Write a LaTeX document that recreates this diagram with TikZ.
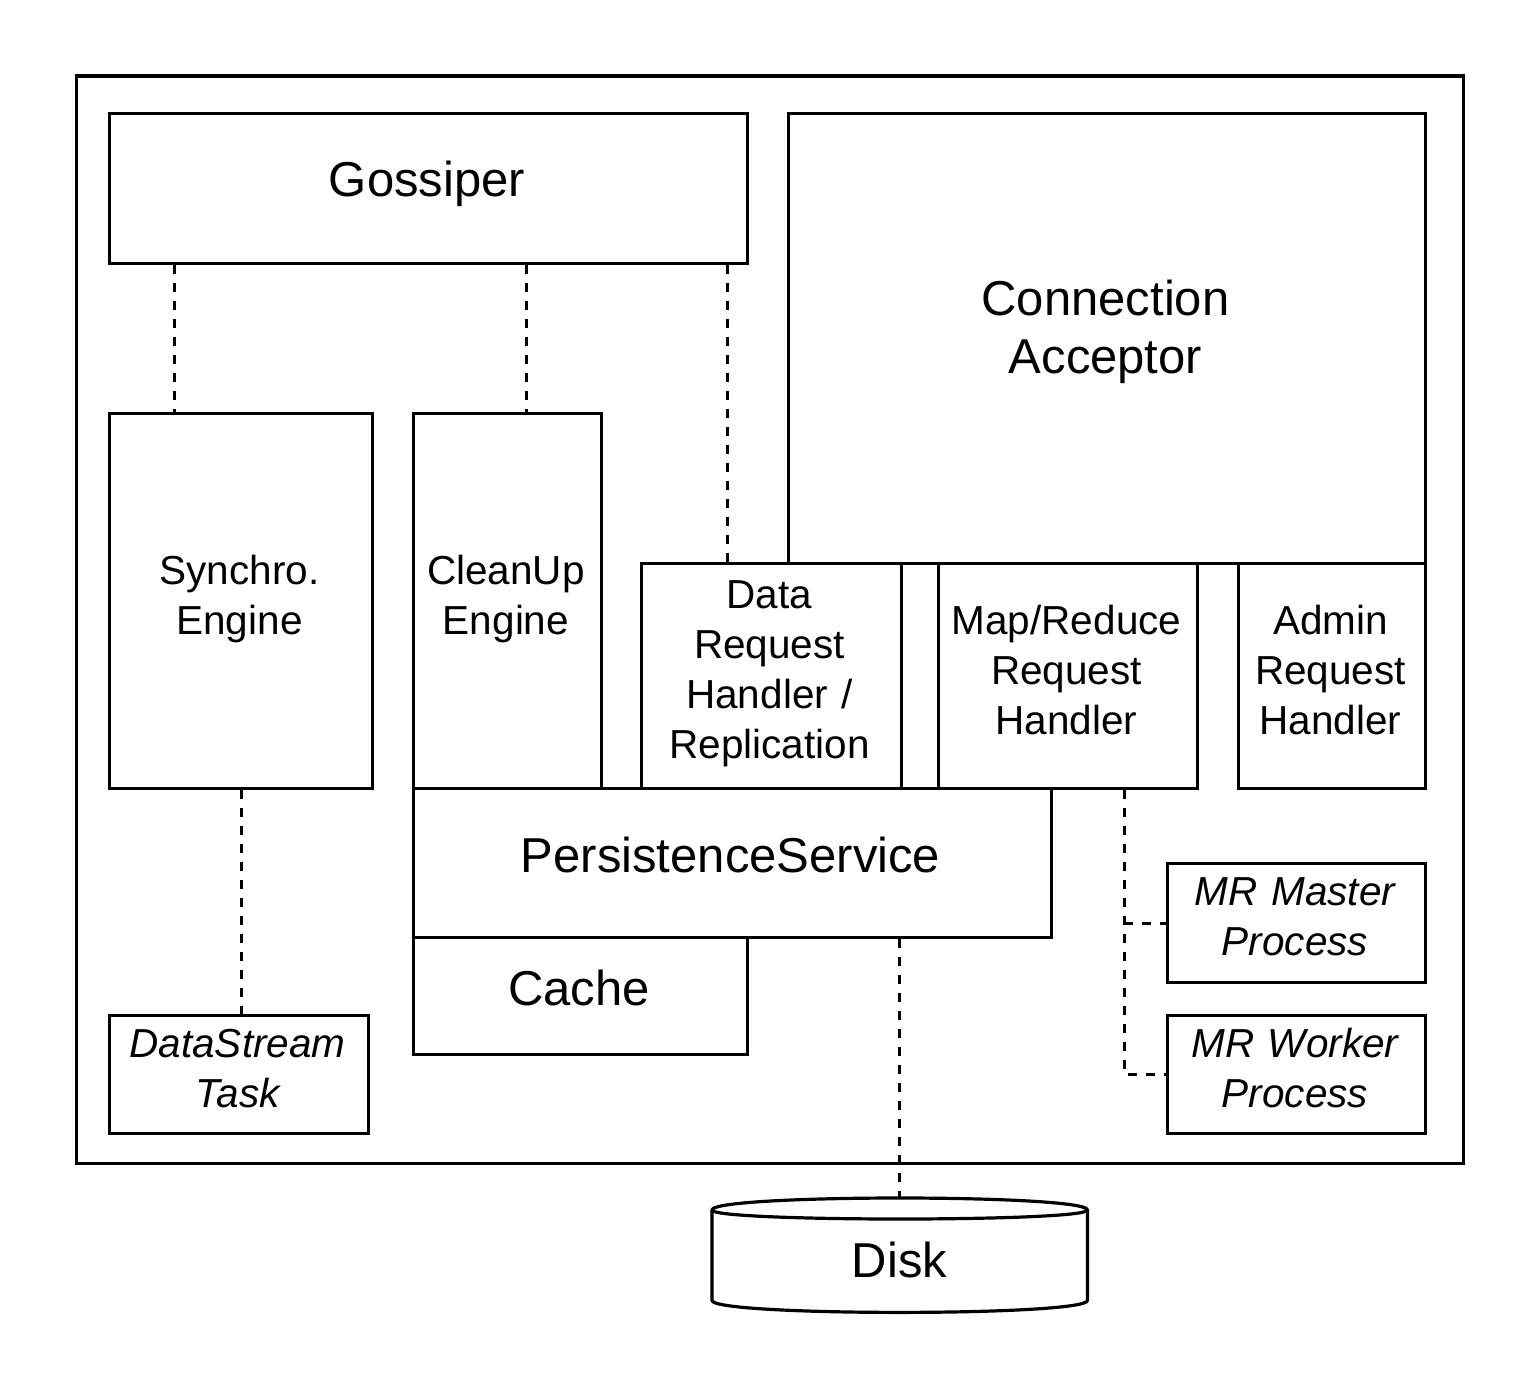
\documentclass[tikz,border=0pt]{standalone}
\usepackage{fontspec}
\setmainfont{Liberation Sans}
\usetikzlibrary{calc}
\begin{document}
\begin{tikzpicture}[x=1pt,y=-1pt,
  box/.style={draw, line width=3.2pt, inner sep=0pt, anchor=north west},
  dl/.style={line width=3.2pt, dash pattern=on 9pt off 9pt},
  big/.style={font=\fontsize{49}{58}\selectfont, inner sep=0pt, anchor=base, align=center},
  sml/.style={font=\fontsize{40.5}{50}\selectfont, inner sep=0pt, anchor=base, align=center},
  ital/.style={font=\fontsize{40.5}{50}\selectfont\itshape, inner sep=0pt, anchor=base, align=center}]
\useasboundingbox (0,0) rectangle (1538,1388);

% boxes
\node[box, minimum width=1387.5pt, minimum height=1087.5pt] (outer) at (74.5,74.5) {};
\node[box, minimum width=638pt, minimum height=150pt] (gos) at (108,112) {};
\node[box, minimum width=637pt, minimum height=450pt] (ca) at (787,112) {};
\node[box, minimum width=263pt, minimum height=375.5pt] (syn) at (108,411.5) {};
\node[box, minimum width=188pt, minimum height=375.5pt] (cu) at (412,411.5) {};
\node[box, minimum width=259.5pt, minimum height=225pt] (drh) at (640,562) {};
\node[box, minimum width=259pt, minimum height=225pt] (mr) at (937,562) {};
\node[box, minimum width=187pt, minimum height=225pt] (adm) at (1237,562) {};
\node[box, minimum width=637.5pt, minimum height=149pt] (ps) at (412,787) {};
\node[box, minimum width=334pt, minimum height=117pt] (cache) at (412,936) {};
\node[box, minimum width=259pt, minimum height=118pt] (ds) at (108,1014) {};
\node[box, minimum width=258.5pt, minimum height=119pt] (mm) at (1165.5,862) {};
\node[box, minimum width=258.5pt, minimum height=118pt] (mw) at (1165.5,1014) {};
\node[inner sep=0pt, anchor=north west, minimum width=375pt, minimum height=114pt] (disk) at (712,1198) {};

% disk cylinder
\draw[line width=3.2pt] ($(disk.north west)+(0,12)$) .. controls ($(disk.north west)+(0,-4)$) and ($(disk.north east)+(0,-4)$) .. ($(disk.north east)+(0,12)$)
  -- ($(disk.south east)+(0,-12)$) .. controls ($(disk.south east)+(0,4)$) and ($(disk.south west)+(0,4)$) .. ($(disk.south west)+(0,-12)$) -- cycle;
\draw[line width=3.2pt] ($(disk.north west)+(0,12)$) .. controls ($(disk.north west)+(0,24)$) and ($(disk.north east)+(0,24)$) .. ($(disk.north east)+(0,12)$);

% labels
\node[big] (gost) at (427,197) {Gossiper};
\node[big, text width=600pt] (cat) at (1105.5,315) {Connection\\Acceptor};
\node[sml, text width=250pt] (synt) at (239.5,584) {Synchro.\\Engine};
\node[sml, text width=185pt] (cut) at (506,584) {CleanUp\\Engine};
\node[sml, text width=255pt] (drht) at (769.5,608) {Data\\Request\\Handler /\\Replication};
\node[sml, text width=255pt] (mrt) at (1066.5,634) {Map/Reduce\\Request\\Handler};
\node[sml, text width=185pt] (admt) at (1330.5,634) {Admin\\Request\\Handler};
\node[big] (pst) at (730.5,872) {PersistenceService};
\node[big] (cachet) at (579,1005) {Cache};
\node[ital, text width=255pt] (dst) at (237.5,1057) {DataStream\\Task};
\node[ital, text width=255pt] (mmt) at (1295,905) {MR Master\\Process};
\node[ital, text width=255pt] (mwt) at (1295,1057) {MR Worker\\Process};
\node[big] (diskt) at (899.5,1277) {Disk};

% connectors
\coordinate (g1) at ($(syn.north west)!0.25!(syn.north east)$);
\coordinate (g2) at ($(cu.north west)!0.6!(cu.north east)$);
\coordinate (g3) at ($(drh.north west)!0.333!(drh.north east)$);
\draw[dl] (g1 |- gos.south) -- (g1);
\draw[dl] (g2 |- gos.south) -- (g2);
\draw[dl] (g3 |- gos.south) -- (g3);
\draw[dl] (syn.south) -- (syn.south |- ds.north);
\draw[dl] (ps.south -| disk.north) -- (disk.north);
\coordinate (m1) at ($(mr.south west)!0.714!(mr.south east)$);
\draw[dl] (m1) |- (mw.west);
\draw[dl] (m1 |- mm.west) -- (mm.west);
\end{tikzpicture}
\end{document}
